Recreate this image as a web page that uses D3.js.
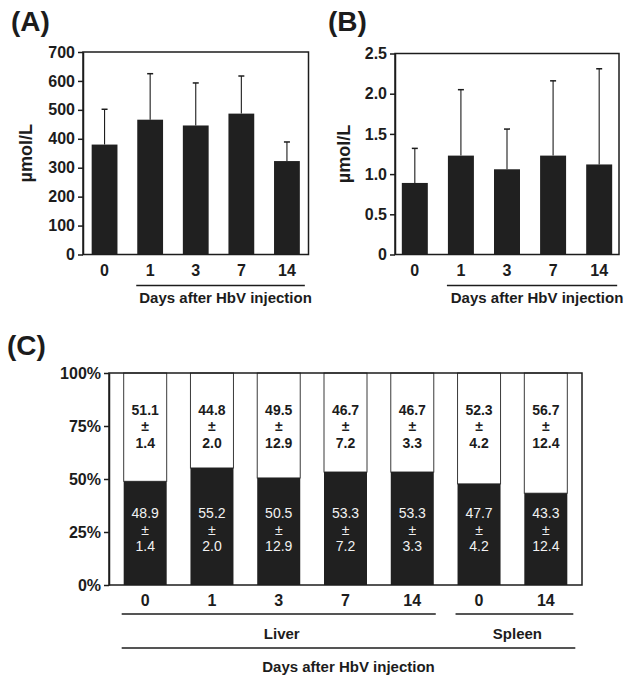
<!DOCTYPE html>
<html>
<head>
<meta charset="utf-8">
<script src="https://cdn.jsdelivr.net/npm/d3@7/dist/d3.min.js"></script>
<style>
  html, body { margin: 0; padding: 0; background: #ffffff; }
  svg { display: block; }
  text { font-family: "Liberation Sans", Arial, Helvetica, sans-serif; fill: #1c1c1c; }
</style>
</head>
<body>
<svg id="fig" width="640" height="677"></svg>
<script>
// Days after HbV injection (panels A and B)
const daysAB = ["0", "1", "3", "7", "14"];

// Panel A: mean and SD (µmol/L)
const valuesA = [380, 466, 446, 487, 323];
const errorsA = [122, 159, 147, 130, 66];
const ticksA = [0, 100, 200, 300, 400, 500, 600, 700];

// Panel B: mean and SD (µmol/L)
const valuesB = [0.89, 1.23, 1.06, 1.23, 1.12];
const errorsB = [0.43, 0.82, 0.50, 0.93, 1.19];
const ticksB = [0, 0.5, 1.0, 1.5, 2.0, 2.5];

// Panel C: percentage split per organ / day
const daysC = ["0", "1", "3", "7", "14", "0", "14"];
const organC = ["Liver", "Liver", "Liver", "Liver", "Liver", "Spleen", "Spleen"];
const lowerPct = [48.9, 55.2, 50.5, 53.3, 53.3, 47.7, 43.3];
const upperPct = [51.1, 44.8, 49.5, 46.7, 46.7, 52.3, 56.7];
const sdPct = [1.4, 2.0, 12.9, 7.2, 3.3, 4.2, 12.4];
const ticksC = [0, 25, 50, 75, 100];

const axisTitle = "Days after HbV injection";
const ink = "#1c1c1c";
const barFill = "#202020";

const svg = d3.select("#fig");

function styleAxis(g) {
  g.select(".domain").attr("stroke", ink).attr("stroke-width", 1.5);
  g.selectAll(".tick line").attr("stroke", ink).attr("stroke-width", 1.5);
  g.selectAll(".tick text")
    .attr("fill", ink)
    .style("font-size", "16px")
    .style("font-weight", "bold");
}

function barPanel(opts) {
  const { left, right, top, bottom, values, errors, ticks, fmt,
          padInner, padOuter, letter, letterX, unitX } = opts;
  const x = d3.scaleBand().domain(daysAB).range([left, right])
    .paddingInner(padInner).paddingOuter(padOuter);
  const y = d3.scaleLinear().domain([0, ticks[ticks.length - 1]]).range([bottom, top]);
  const g = svg.append("g");

  // bars
  g.selectAll("rect.bar").data(daysAB).join("rect")
    .attr("class", "bar")
    .attr("x", d => x(d))
    .attr("width", x.bandwidth())
    .attr("y", (d, i) => y(values[i]))
    .attr("height", (d, i) => y(0) - y(values[i]))
    .attr("fill", barFill);

  // upper error bars
  const capW = 6;
  const eb = g.selectAll("g.err").data(daysAB).join("g").attr("class", "err");
  eb.append("line")
    .attr("x1", d => x(d) + x.bandwidth() / 2)
    .attr("x2", d => x(d) + x.bandwidth() / 2)
    .attr("y1", (d, i) => y(values[i]))
    .attr("y2", (d, i) => y(values[i] + errors[i]))
    .attr("stroke", ink).attr("stroke-width", 1.1);
  eb.append("line")
    .attr("x1", d => x(d) + x.bandwidth() / 2 - capW / 2)
    .attr("x2", d => x(d) + x.bandwidth() / 2 + capW / 2)
    .attr("y1", (d, i) => y(values[i] + errors[i]))
    .attr("y2", (d, i) => y(values[i] + errors[i]))
    .attr("stroke", ink).attr("stroke-width", 1.5);

  // frame
  g.append("rect")
    .attr("x", left).attr("y", top)
    .attr("width", right - left).attr("height", bottom - top)
    .attr("fill", "none").attr("stroke", ink).attr("stroke-width", 1.5);

  // y axis
  g.append("g").attr("transform", `translate(${left},0)`)
    .call(d3.axisLeft(y).tickValues(ticks).tickFormat(fmt).tickSize(5).tickSizeOuter(0).tickPadding(3))
    .call(styleAxis);

  // x labels
  g.selectAll("text.xl").data(daysAB).join("text")
    .attr("class", "xl")
    .attr("x", d => x(d) + x.bandwidth() / 2)
    .attr("y", bottom + 21)
    .attr("text-anchor", "middle")
    .style("font-size", "16px").style("font-weight", "bold")
    .text(d => d);

  // bracket under days 1..14
  const x0 = x(daysAB[1]) - 1;
  const x1 = x(daysAB[4]) + x.bandwidth() + 5;
  g.append("line").attr("x1", x0).attr("x2", x1)
    .attr("y1", bottom + 31).attr("y2", bottom + 31)
    .attr("stroke", ink).attr("stroke-width", 1.5);
  g.append("text")
    .attr("x", (x0 + x1) / 2 + 5)
    .attr("y", bottom + 48)
    .attr("text-anchor", "middle")
    .style("font-size", "15px").style("font-weight", "bold")
    .text(axisTitle);

  // unit label
  g.append("text")
    .attr("transform", `translate(${unitX},${(top + bottom) / 2}) rotate(-90)`)
    .attr("text-anchor", "middle")
    .style("font-size", "18px").style("font-weight", "bold")
    .text("µmol/L");

  // panel letter
  g.append("text")
    .attr("x", letterX).attr("y", 31)
    .style("font-size", "28px").style("font-weight", "bold")
    .text(letter);
}

barPanel({
  left: 83, right: 308.5, top: 52, bottom: 254.5,
  values: valuesA, errors: errorsA, ticks: ticksA, fmt: d => d,
  padInner: 0.434, padOuter: 0.19, letter: "(A)", letterX: 11, unitX: 32
});

barPanel({
  left: 395, right: 619, top: 53.5, bottom: 254.5,
  values: valuesB, errors: errorsB, ticks: ticksB,
  fmt: d => d === 0 ? "0" : d.toFixed(1),
  padInner: 0.436, padOuter: 0.148, letter: "(B)", letterX: 328, unitX: 350
});

// Panel C: stacked percentage bars
(function () {
  const left = 109, right = 582, top = 373, bottom = 585;
  const keys = daysC.map((d, i) => organC[i] + "-" + d);
  const x = d3.scaleBand().domain(keys).range([left, right])
    .paddingInner(0.356).paddingOuter(0.22);
  const y = d3.scaleLinear().domain([0, 100]).range([bottom, top]);
  const g = svg.append("g");

  // upper (white) segments
  g.selectAll("rect.up").data(keys).join("rect")
    .attr("class", "up")
    .attr("x", d => x(d))
    .attr("width", x.bandwidth())
    .attr("y", (d, i) => y(lowerPct[i] + upperPct[i]))
    .attr("height", (d, i) => y(lowerPct[i]) - y(lowerPct[i] + upperPct[i]))
    .attr("fill", "#ffffff").attr("stroke", "#3a3a3a").attr("stroke-width", 1);

  // lower (black) segments
  g.selectAll("rect.low").data(keys).join("rect")
    .attr("class", "low")
    .attr("x", d => x(d))
    .attr("width", x.bandwidth())
    .attr("y", (d, i) => y(lowerPct[i]))
    .attr("height", (d, i) => y(0) - y(lowerPct[i]))
    .attr("fill", barFill);

  // frame
  g.append("rect")
    .attr("x", left).attr("y", top)
    .attr("width", right - left).attr("height", bottom - top)
    .attr("fill", "none").attr("stroke", ink).attr("stroke-width", 1.5);

  // value labels: mean ± SD
  const lineGap = 16.5;
  function stackLabel(cls, values, centerPct, color, weight) {
    const lab = g.selectAll("text." + cls).data(keys).join("text")
      .attr("class", cls)
      .attr("text-anchor", "middle")
      .style("font-size", "14px").style("font-weight", weight)
      .style("fill", color);
    lab.each(function (d, i) {
      const t = d3.select(this);
      const cx = x(d) + x.bandwidth() / 2;
      const cy = y(centerPct);
      [values[i].toFixed(1), "±", sdPct[i].toFixed(1)].forEach((s, k) => {
        t.append("tspan")
          .attr("x", cx)
          .attr("y", cy + (k - 1) * lineGap + 5)
          .text(s);
      });
    });
  }
  stackLabel("labUp", upperPct, 75, "#1c1c1c", "bold");
  stackLabel("labLow", lowerPct, 26, "#f2f2f2", "normal");

  // y axis
  g.append("g").attr("transform", `translate(${left},0)`)
    .call(d3.axisLeft(y).tickValues(ticksC).tickFormat(d => d + "%").tickSize(5).tickSizeOuter(0).tickPadding(3))
    .call(styleAxis);

  // x labels
  g.selectAll("text.xl").data(keys).join("text")
    .attr("class", "xl")
    .attr("x", d => x(d) + x.bandwidth() / 2)
    .attr("y", bottom + 21)
    .attr("text-anchor", "middle")
    .style("font-size", "16px").style("font-weight", "bold")
    .text((d, i) => daysC[i]);

  // organ brackets
  const organs = ["Liver", "Spleen"];
  organs.forEach((o, j) => {
    const idx = keys.filter((k, i) => organC[i] === o);
    const x0 = x(idx[0]) - 2;
    const x1 = x(idx[idx.length - 1]) + x.bandwidth() + (j === 0 ? 2 : 6);
    g.append("line").attr("x1", x0).attr("x2", x1)
      .attr("y1", bottom + 29).attr("y2", bottom + 29)
      .attr("stroke", ink).attr("stroke-width", 1.5);
    g.append("text")
      .attr("x", (x0 + x1) / 2 + 3).attr("y", bottom + 54)
      .attr("text-anchor", "middle")
      .style("font-size", "15px").style("font-weight", "bold")
      .text(o);
  });

  // overall bracket
  const bx0 = x(keys[0]) - 2;
  const bx1 = x(keys[keys.length - 1]) + x.bandwidth() + 8;
  g.append("line").attr("x1", bx0).attr("x2", bx1)
    .attr("y1", bottom + 63).attr("y2", bottom + 63)
    .attr("stroke", ink).attr("stroke-width", 1.5);
  g.append("text")
    .attr("x", (bx0 + bx1) / 2).attr("y", bottom + 87)
    .attr("text-anchor", "middle")
    .style("font-size", "15px").style("font-weight", "bold")
    .text(axisTitle);

  // panel letter
  g.append("text")
    .attr("x", 7).attr("y", 355)
    .style("font-size", "28px").style("font-weight", "bold")
    .text("(C)");
})();
</script>
</body>
</html>
